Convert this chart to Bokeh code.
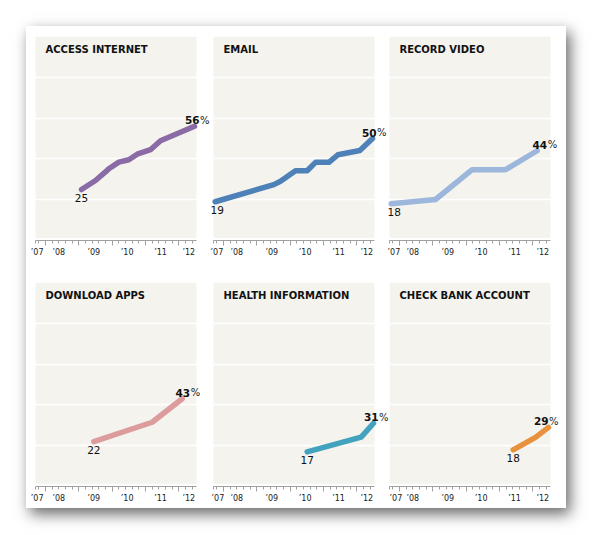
from bokeh.plotting import figure
from bokeh.layouts import row, column
from bokeh.models import Range1d, FixedTicker, LinearAxis, Label, BoxAnnotation
from bokeh.embed import file_html
from bokeh.resources import INLINE

# ---------------- data ----------------
titles = ["ACCESS INTERNET", "EMAIL", "RECORD VIDEO",
          "DOWNLOAD APPS", "HEALTH INFORMATION", "CHECK BANK ACCOUNT"]

access_x = [2009.08, 2009.5, 2009.8, 2009.9, 2010.2, 2010.5, 2010.75, 2011.15, 2011.45, 2012.47]
access_y = [25, 29.4, 33.6, 35.2, 38.4, 39.6, 42.3, 44.5, 48.9, 56]

email_x = [2007.75, 2009.51, 2009.71, 2010.16, 2010.51, 2010.76, 2011.16, 2011.43, 2012.09, 2012.47]
email_y = [19, 27.4, 29, 34.2, 34.2, 38.3, 38.3, 42, 44.1, 50]

video_x = [2007.75, 2009.08, 2010.18, 2011.18, 2012.13]
video_y = [18, 20.1, 34.7, 34.7, 44]

apps_x = [2009.45, 2011.2, 2012.1]
apps_y = [22, 31.5, 43]

health_x = [2010.51, 2012.13, 2012.5]
health_y = [17, 24.2, 31]

bank_x = [2011.41, 2012.08, 2012.47]
bank_y = [18, 24.1, 29]

colors = ["#8a6ba6", "#4e81b8", "#9db7dc", "#dc9c9c", "#43a2bd", "#e8923f"]

year_ticks = [2008, 2009, 2010, 2011, 2012]
minor_ticks = [2007.7, 2007.8, 2008.2, 2008.4, 2008.6, 2008.8,
               2009.2, 2009.4, 2009.6, 2009.8,
               2010.2, 2010.4, 2010.6, 2010.8,
               2011.2, 2011.4, 2011.6, 2011.8,
               2012.2, 2012.4]
tick_label_pos = [2007.75, 2008.4, 2009.45, 2010.45, 2011.45, 2012.3]
tick_labels = ["\u201907", "\u201908", "\u201909", "\u201910", "\u201911", "\u201912"]
grid_values = [20, 40, 60, 80]

series = [(access_x, access_y), (email_x, email_y), (video_x, video_y),
          (apps_x, apps_y), (health_x, health_y), (bank_x, bank_y)]

# ---------------- layout / style ----------------
BG = "#f4f3ee"
FONT = "DejaVu Sans"
X0, X1 = 2007.7, 2012.53          # extent of the shaded panel
SCALE = 161 / (X1 - X0)           # px per year
FIG_W = [184, 177, 179, 185, 178, 177]
PAD_L = [9, 3, 2, 9, 2, 0]        # px from figure edge to shaded panel
BOTTOM = [32, 22]
END_DX = [5, 4, 10, 8, 5, 0]
START_DX = [0, 2, 3, 0, 0, 0]


def panel(i):
    r = i // 3
    xs, ys = series[i]
    xs0 = X0 - PAD_L[i] / SCALE
    xs1 = xs0 + FIG_W[i] / SCALE
    p = figure(frame_width=FIG_W[i], frame_height=204,
               x_range=Range1d(xs0, xs1), y_range=Range1d(0, 100),
               y_axis_location=None, toolbar_location=None, output_backend="svg",
               min_border_left=0, min_border_right=0,
               min_border_top=10, min_border_bottom=BOTTOM[r],
               background_fill_color="white", border_fill_color="white",
               outline_line_color=None)
    p.add_layout(BoxAnnotation(left=X0, right=X1, bottom=1.2, top=100,
                               fill_color=BG, fill_alpha=1, line_color=None,
                               level="image"))
    p.xgrid.visible = False
    p.ygrid.ticker = FixedTicker(ticks=grid_values)
    p.ygrid.grid_line_color = "white"
    p.ygrid.grid_line_width = 1.5

    # tick axis
    ax = p.xaxis[0]
    ax.ticker = FixedTicker(ticks=year_ticks, minor_ticks=minor_ticks)
    ax.bounds = (X0, X1)
    ax.axis_line_color = "#a0a0a0"
    ax.major_tick_line_color = "#a0a0a0"
    ax.minor_tick_line_color = "#a0a0a0"
    ax.major_tick_in = 0
    ax.major_tick_out = 5
    ax.minor_tick_in = 0
    ax.minor_tick_out = 3
    ax.major_label_text_color = None
    ax.major_label_text_font_size = "1px"
    ax.major_label_standoff = 0

    # label axis
    lab = LinearAxis(ticker=FixedTicker(ticks=tick_label_pos, minor_ticks=[]),
                     major_label_overrides={pos: t for pos, t in zip(tick_label_pos, tick_labels)},
                     axis_line_color=None, major_tick_line_color=None,
                     minor_tick_line_color=None, major_tick_in=0, major_tick_out=0,
                     minor_tick_in=0, minor_tick_out=0,
                     major_label_standoff=2,
                     major_label_text_font=FONT, major_label_text_font_size="8px",
                     major_label_text_color="#222222")
    p.add_layout(lab, "below")

    p.line(xs, ys, line_width=5.5, line_color=colors[i],
           line_cap="round", line_join="round")

    p.add_layout(Label(x=X0, y=100, x_offset=10, y_offset=-7, text=titles[i],
                       text_font=FONT, text_font_style="bold", text_font_size="10px",
                       text_baseline="top", text_color="#111111"))
    p.add_layout(Label(x=xs[0], y=ys[0], x_offset=START_DX[i], y_offset=-4, text=str(ys[0]),
                       text_font=FONT, text_font_size="10.5px", text_align="center",
                       text_baseline="top", text_color="#111111"))
    p.add_layout(Label(x=xs[-1], y=ys[-1], x_offset=END_DX[i], y_offset=6, text=str(ys[-1]),
                       text_font=FONT, text_font_style="bold", text_font_size="10.5px",
                       text_align="right", text_baseline="alphabetic", text_color="#111111"))
    p.add_layout(Label(x=xs[-1], y=ys[-1], x_offset=END_DX[i] + 0.5, y_offset=6, text="%",
                       text_font=FONT, text_font_size="10px",
                       text_align="left", text_baseline="alphabetic", text_color="#222222"))
    return p


plots = [panel(i) for i in range(6)]
card = column(row(*plots[:3], spacing=0), row(*plots[3:], spacing=0), spacing=0)
card.styles = {"background-color": "white",
               "box-shadow": "4px 6px 14px rgba(0,0,0,0.6)",
               "margin-left": "26px", "margin-top": "26px"}

open("out.html", "w").write(file_html(card, INLINE))
